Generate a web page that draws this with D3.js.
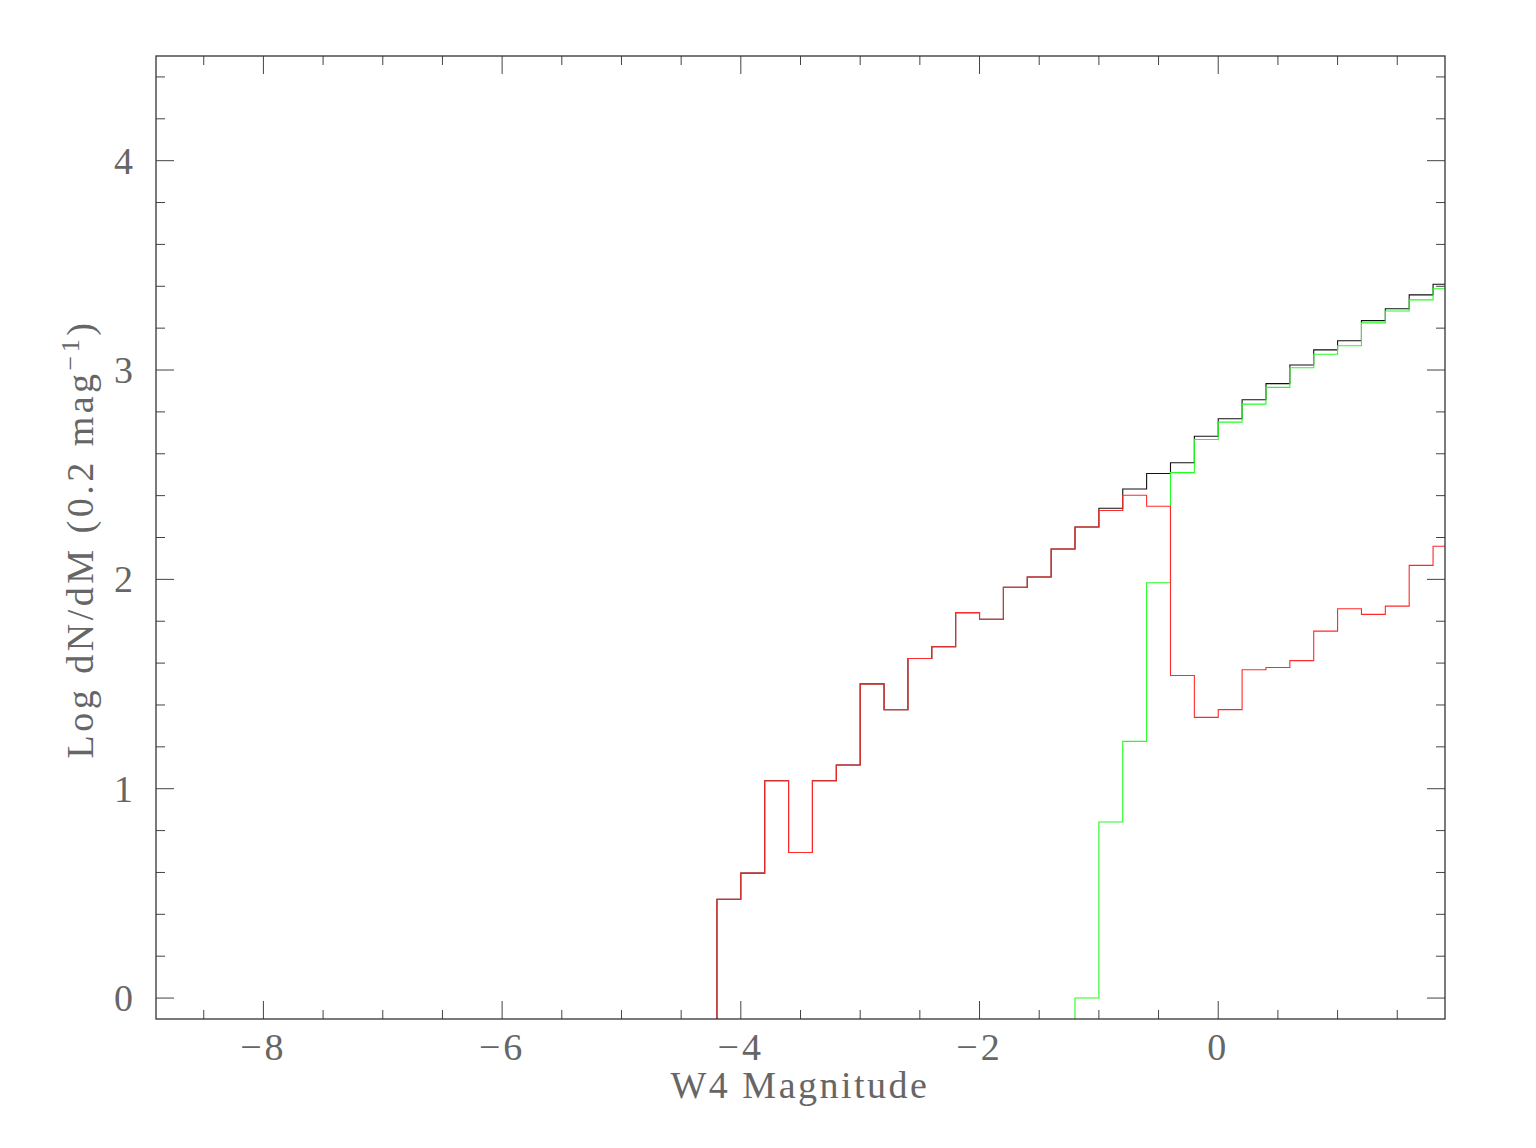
<!DOCTYPE html>
<html>
<head>
<meta charset="utf-8">
<script src="https://cdn.jsdelivr.net/npm/d3@7"></script>
<style>
    body { margin: 0; background: #fff; }
    text { font-family: "Liberation Serif", "DejaVu Serif", serif; fill: #666; }
</style>
</head>
<body>
<svg id="paper" width="1536" height="1148"></svg>
<script>
// bin left edges (0.2 mag bins)
var binMags = [-4.2, -4.0, -3.8, -3.6, -3.4, -3.2, -3.0, -2.8, -2.6, -2.4, -2.2, -2.0, -1.8, -1.6, -1.4,
    -1.2, -1.0, -0.8, -0.6, -0.4, -0.2, 0.0, 0.2, 0.4, 0.6, 0.8, 1.0, 1.2, 1.4, 1.6, 1.8];
var totalCounts = [0.472, 0.597, 1.038, 0.695, 1.038, 1.113, 1.501, 1.378, 1.622, 1.678, 1.841, 1.809, 1.962, 2.011, 2.145,
    2.250, 2.340, 2.432, 2.506, 2.557, 2.684, 2.767, 2.858, 2.935, 3.024, 3.096, 3.140, 3.236, 3.293, 3.359, 3.410];
var redCounts = [0.472, 0.597, 1.038, 0.695, 1.038, 1.113, 1.501, 1.378, 1.622, 1.678, 1.841, 1.809, 1.962, 2.011, 2.145,
    2.250, 2.329, 2.402, 2.349, 1.541, 1.341, 1.378, 1.568, 1.579, 1.612, 1.753, 1.860, 1.833, 1.872, 2.067, 2.158];
var greenMags = [-1.2, -1.0, -0.8, -0.6, -0.4, -0.2, 0.0, 0.2, 0.4, 0.6, 0.8, 1.0, 1.2, 1.4, 1.6, 1.8];
var greenCounts = [0.0, 0.841, 1.226, 1.984, 2.510, 2.668, 2.751, 2.837, 2.917, 3.011, 3.075, 3.116, 3.225, 3.282, 3.335, 3.388];

var xTicks = [-8, -6, -4, -2, 0];
var yTicks = [0, 1, 2, 3, 4];
var binWidth = 0.2;

var paper = d3.select("#paper");
var boxLeft = 156, boxRight = 1445, boxTop = 56, boxBottom = 1019;

var x = d3.scaleLinear().domain([-8.9, 1.9]).range([boxLeft, boxRight]);
var y = d3.scaleLinear().domain([-0.1, 4.5]).range([boxBottom, boxTop]);

paper.append("defs").append("clipPath").attr("id", "frameClip")
    .append("rect")
    .attr("x", boxLeft).attr("y", boxTop)
    .attr("width", boxRight - boxLeft).attr("height", boxBottom - boxTop);

function histPoints(mags, counts) {
    var pts = [[mags[0], y.domain()[0]]];
    for (var i = 0; i < mags.length; i++) {
        pts.push([mags[i], counts[i]]);
    }
    var last = mags.length - 1;
    pts.push([mags[last] + binWidth, counts[last]]);
    return pts;
}

var stepLine = d3.line()
    .x(function (d) { return x(d[0]); })
    .y(function (d) { return y(d[1]); })
    .curve(d3.curveStepAfter);

var plot = paper.append("g").attr("clip-path", "url(#frameClip)");

function drawHist(mags, counts, color) {
    plot.append("path")
        .attr("d", stepLine(histPoints(mags, counts)))
        .attr("fill", "none")
        .attr("stroke", color)
        .attr("stroke-width", 1.1);
}

drawHist(binMags, totalCounts, "#111");
drawHist(greenMags, greenCounts, "#22ff22");
drawHist(binMags, redCounts, "#ff2a2a");

// ticks on all four sides, pointing inward
var xMinor = d3.range(-8.5, 1.9, 0.5);
var yMinor = d3.range(0, 4.5, 0.2);
var ticks = paper.append("g").attr("stroke", "#444").attr("stroke-width", 1);

xMinor.forEach(function (v) {
    var len = (Math.abs(v % 2) < 1e-6) ? 18 : 9;
    ticks.append("line").attr("x1", x(v)).attr("x2", x(v)).attr("y1", boxBottom).attr("y2", boxBottom - len);
    ticks.append("line").attr("x1", x(v)).attr("x2", x(v)).attr("y1", boxTop).attr("y2", boxTop + len);
});
yMinor.forEach(function (v) {
    var r = Math.round(v * 10) / 10;
    var len = (Math.abs(r - Math.round(r)) < 1e-6) ? 18 : 9;
    ticks.append("line").attr("x1", boxLeft).attr("x2", boxLeft + len).attr("y1", y(r)).attr("y2", y(r));
    ticks.append("line").attr("x1", boxRight).attr("x2", boxRight - len).attr("y1", y(r)).attr("y2", y(r));
});

paper.append("rect")
    .attr("x", boxLeft).attr("y", boxTop)
    .attr("width", boxRight - boxLeft).attr("height", boxBottom - boxTop)
    .attr("fill", "none")
    .attr("stroke", "#333")
    .attr("stroke-width", 1.3);

function fmt(v) {
    return v < 0 ? "\u2212" + Math.abs(v) : String(v);
}

paper.append("g").selectAll("text").data(xTicks).enter().append("text")
    .attr("x", function (d) { return x(d); })
    .attr("y", 1060)
    .attr("text-anchor", "middle")
    .attr("font-size", 38)
    .attr("letter-spacing", 3)
    .text(fmt);

paper.append("g").selectAll("text").data(yTicks).enter().append("text")
    .attr("x", 133)
    .attr("y", function (d) { return y(d) + 13; })
    .attr("text-anchor", "end")
    .attr("font-size", 38)
    .text(fmt);

paper.append("text")
    .attr("x", 800)
    .attr("y", 1098)
    .attr("text-anchor", "middle")
    .attr("font-size", 38)
    .attr("letter-spacing", 2.5)
    .text("W4 Magnitude");

var yLabel = paper.append("text")
    .attr("transform", "translate(93,539) rotate(-90)")
    .attr("text-anchor", "middle")
    .attr("font-size", 38)
    .attr("letter-spacing", 3.5);
yLabel.append("tspan").text("Log dN/dM (0.2 mag");
yLabel.append("tspan").attr("dy", -14).attr("font-size", 26).text("\u22121");
yLabel.append("tspan").attr("dy", 14).text(")");
</script>
</body>
</html>
